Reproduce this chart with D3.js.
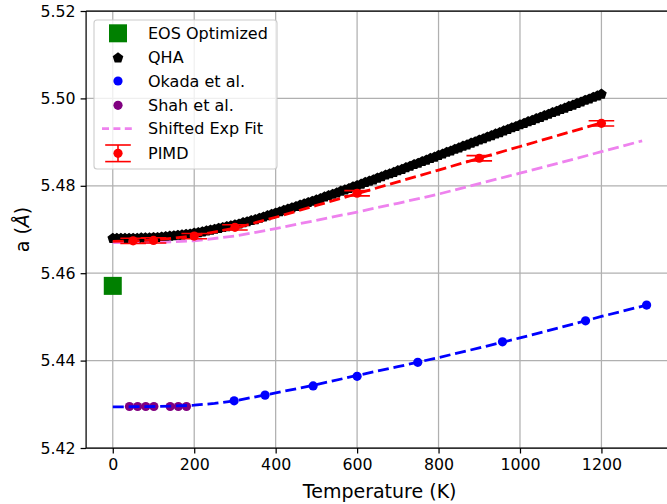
<!DOCTYPE html>
<html>
<head>
<meta charset="utf-8">
<script src="https://cdn.jsdelivr.net/npm/d3@7"></script>
<style>
  html, body { margin: 0; padding: 0; background: #fff; }
  svg { display: block; font-family: "DejaVu Sans", sans-serif; }
</style>
</head>
<body>
<svg id="chart" width="667" height="504"></svg>
<script>
// ---- data ----
const eosTemp = [0];
const eosA = [5.4571];

const qhaTemp = [0,10,20,30,40,50,60,70,80,90,100,110,120,130,140,150,160,170,180,190,
  200,210,220,230,240,250,260,270,280,290,300,310,320,330,340,350,360,370,380,390,
  400,410,420,430,440,450,460,470,480,490,500,510,520,530,540,550,560,570,580,590,
  600,610,620,630,640,650,660,670,680,690,700,710,720,730,740,750,760,770,780,790,
  800,810,820,830,840,850,860,870,880,890,900,910,920,930,940,950,960,970,980,990,
  1000,1010,1020,1030,1040,1050,1060,1070,1080,1090,1100,1110,1120,1130,1140,1150,1160,1170,1180,1190,1200];
const qhaA = [5.4681,5.4681,5.4681,5.4681,5.4681,5.4681,5.4681,5.4682,5.4682,5.4682,
  5.4683,5.4683,5.4684,5.4685,5.4686,5.4687,5.4688,5.4689,5.4690,5.4691,
  5.4693,5.4694,5.4696,5.4698,5.4700,5.4702,5.4704,5.4706,5.4708,5.4710,
  5.4712,5.4714,5.4717,5.4719,5.4722,5.4724,5.4727,5.4730,5.4733,5.4736,
  5.4739,5.4742,5.4745,5.4748,5.4751,5.4754,5.4757,5.4760,5.4763,5.4766,
  5.4769,5.4772,5.4776,5.4779,5.4782,5.4785,5.4789,5.4792,5.4795,5.4799,
  5.4802,5.4805,5.4809,5.4812,5.4815,5.4819,5.4822,5.4826,5.4829,5.4832,
  5.4836,5.4839,5.4843,5.4846,5.4850,5.4853,5.4857,5.4860,5.4864,5.4867,
  5.4871,5.4874,5.4878,5.4881,5.4885,5.4888,5.4892,5.4895,5.4899,5.4902,
  5.4906,5.4909,5.4913,5.4916,5.4920,5.4923,5.4927,5.4930,5.4934,5.4937,
  5.4941,5.4944,5.4948,5.4951,5.4955,5.4958,5.4962,5.4965,5.4969,5.4972,
  5.4976,5.4979,5.4983,5.4986,5.4990,5.4993,5.4997,5.5000,5.5004,5.5007,5.5011];

const okadaTemp = [298, 374, 492, 600, 749, 957, 1161, 1311];
const okadaA = [5.4308, 5.4321, 5.4342, 5.4364, 5.4396, 5.4443, 5.4491, 5.4527];

const shahTemp = [41, 61, 81, 101, 141, 161, 181];
const shahA = [5.4295, 5.4295, 5.4295, 5.4295, 5.4295, 5.4295, 5.4295];

// smooth fit through the Okada data
const okadaFitTemp = [0, 100, 150, 200, 250, 300, 400, 500, 600, 700, 800, 900, 1000, 1100, 1200, 1311];
const okadaFitA = [5.4294, 5.4295, 5.4296, 5.4298, 5.4302, 5.4308, 5.4326, 5.4345, 5.4366, 5.4386,
  5.4407, 5.4429, 5.4452, 5.4476, 5.4501, 5.4527];

// shifted exponential fit
const expFitTemp = [0, 100, 200, 300, 400, 500, 600, 700, 800, 900, 1000, 1100, 1200, 1300];
const expFitA = [5.4670, 5.4670, 5.4674, 5.4685, 5.4702, 5.4721, 5.4740, 5.4760, 5.4781, 5.4805,
  5.4829, 5.4853, 5.4878, 5.4903];

// fit through the PIMD data
const pimdFitTemp = [0, 50, 100, 150, 200, 300, 400, 500, 600, 700, 800, 900, 1000, 1100, 1200];
const pimdFitA = [5.4673, 5.4674, 5.4676, 5.4680, 5.4686, 5.4703, 5.4728, 5.4755, 5.4782, 5.4809,
  5.4836, 5.4863, 5.4890, 5.4917, 5.4944];

const pimdTemp = [50, 100, 200, 300, 600, 900, 1200];
const pimdA = [5.4674, 5.4675, 5.4685, 5.4705, 5.4783, 5.4863, 5.4943];
const pimdErr = [0.0006, 0.0006, 0.0006, 0.0006, 0.0006, 0.0006, 0.0006];

const xTicks = [0, 200, 400, 600, 800, 1000, 1200];
const yTicks = [5.42, 5.44, 5.46, 5.48, 5.50, 5.52];

const legendLabels = ["EOS Optimized", "QHA", "Okada et al.", "Shah et al.", "Shifted Exp Fit", "PIMD"];

// ---- layout ----
const svg = d3.select("#chart");
const W = 667, H = 504;
const plot = { left: 86.1, right: 673.3, top: 11, bottom: 448 };

const x = d3.scaleLinear().domain([-65.5, 1376.5]).range([plot.left, plot.right]);
const y = d3.scaleLinear().domain([5.42, 5.52]).range([plot.bottom, plot.top]);

const GRID = "#b0b0b0";
const tickFont = 15.8;

svg.append("defs").append("clipPath").attr("id", "plotclip")
  .append("rect").attr("x", plot.left).attr("y", plot.top)
  .attr("width", plot.right - plot.left).attr("height", plot.bottom - plot.top);

// grid
const grid = svg.append("g");
grid.selectAll("line.gx").data(xTicks).join("line")
  .attr("x1", d => x(d)).attr("x2", d => x(d))
  .attr("y1", plot.top).attr("y2", plot.bottom)
  .attr("stroke", GRID).attr("stroke-width", 1.25);
grid.selectAll("line.gy").data(yTicks).join("line")
  .attr("x1", plot.left).attr("x2", plot.right)
  .attr("y1", d => y(d)).attr("y2", d => y(d))
  .attr("stroke", GRID).attr("stroke-width", 1.25);

const layer = svg.append("g").attr("clip-path", "url(#plotclip)");

// EOS optimized square
layer.selectAll("rect.eos").data(eosTemp).join("rect")
  .attr("x", (d, i) => x(d) - 9).attr("y", (d, i) => y(eosA[i]) - 9)
  .attr("width", 18).attr("height", 18).attr("fill", "#008000");

// pentagon marker
function pentagon(r) {
  const pts = d3.range(5).map(k => {
    const a = -Math.PI / 2 + k * 2 * Math.PI / 5;
    return [r * Math.cos(a), r * Math.sin(a)];
  });
  return "M" + pts.map(p => p.join(",")).join("L") + "Z";
}
const pent = pentagon(5.6);

layer.selectAll("path.qha").data(qhaTemp).join("path")
  .attr("d", pent)
  .attr("transform", (d, i) => `translate(${x(d)},${y(qhaA[i]) + 0.6})`)
  .attr("fill", "#000");

// Okada points
layer.selectAll("circle.okada").data(okadaTemp).join("circle")
  .attr("cx", d => x(d)).attr("cy", (d, i) => y(okadaA[i]))
  .attr("r", 4.6).attr("fill", "#0000ff");

// Shah points
layer.selectAll("circle.shah").data(shahTemp).join("circle")
  .attr("cx", d => x(d)).attr("cy", (d, i) => y(shahA[i]))
  .attr("r", 4.6).attr("fill", "#800080");

const line = d3.line().x(d => x(d[0])).y(d => y(d[1]));
const dash = "11,4.8";

function dashed(temps, vals, color) {
  layer.append("path")
    .attr("d", line(temps.map((t, i) => [t, vals[i]])))
    .attr("fill", "none").attr("stroke", color)
    .attr("stroke-width", 2.8).attr("stroke-dasharray", dash);
}
dashed(okadaFitTemp, okadaFitA, "#0000ff");
dashed(expFitTemp, expFitA, "#ee82ee");
dashed(pimdFitTemp, pimdFitA, "#ff0000");

// PIMD with error bars
const pimd = layer.selectAll("g.pimd").data(pimdTemp).join("g")
  .attr("transform", (d, i) => `translate(${x(d)},0)`);
pimd.append("line")
  .attr("x1", 0).attr("x2", 0)
  .attr("y1", (d, i) => y(pimdA[i] - pimdErr[i]))
  .attr("y2", (d, i) => y(pimdA[i] + pimdErr[i]))
  .attr("stroke", "#ff0000").attr("stroke-width", 1.6);
[-1, 1].forEach(s => {
  pimd.append("line")
    .attr("x1", -12.8).attr("x2", 12.8)
    .attr("y1", (d, i) => y(pimdA[i] + s * pimdErr[i]))
    .attr("y2", (d, i) => y(pimdA[i] + s * pimdErr[i]))
    .attr("stroke", "#ff0000").attr("stroke-width", 1.6);
});
pimd.append("circle")
  .attr("cx", 0).attr("cy", (d, i) => y(pimdA[i]))
  .attr("r", 4.6).attr("fill", "#ff0000");

// axes
const xAxis = svg.append("g").attr("transform", `translate(0,${plot.bottom})`)
  .call(d3.axisBottom(x).tickValues(xTicks).tickFormat(d3.format("d")).tickSize(5.5).tickPadding(5));
const yAxis = svg.append("g").attr("transform", `translate(${plot.left},0)`)
  .call(d3.axisLeft(y).tickValues(yTicks).tickFormat(d3.format(".2f")).tickSize(5.5).tickPadding(5));
[xAxis, yAxis].forEach(g => {
  g.select(".domain").remove();
  g.selectAll(".tick line").attr("stroke", "#000").attr("stroke-width", 1.25);
  g.selectAll(".tick text").attr("font-size", tickFont)
    .attr("font-family", "DejaVu Sans, sans-serif").attr("fill", "#000");
});

// spines
svg.append("line").attr("x1", plot.left).attr("x2", plot.left)
  .attr("y1", plot.top).attr("y2", plot.bottom).attr("stroke", "#000").attr("stroke-width", 1.25);
svg.append("line").attr("x1", plot.left).attr("x2", plot.right)
  .attr("y1", plot.bottom).attr("y2", plot.bottom).attr("stroke", "#000").attr("stroke-width", 1.25);
svg.append("line").attr("x1", plot.left).attr("x2", plot.right)
  .attr("y1", plot.top).attr("y2", plot.top).attr("stroke", "#000").attr("stroke-width", 1.25);
svg.append("line").attr("x1", plot.right).attr("x2", plot.right)
  .attr("y1", plot.top).attr("y2", plot.bottom).attr("stroke", "#000").attr("stroke-width", 1.25);

// axis labels
svg.append("text")
  .attr("x", (plot.left + plot.right) / 2).attr("y", 498)
  .attr("text-anchor", "middle").attr("font-size", 19).attr("fill", "#000")
  .text("Temperature (K)");

const yl = svg.append("text")
  .attr("transform", `translate(29,${(plot.top + plot.bottom) / 2}) rotate(-90)`)
  .attr("text-anchor", "middle").attr("font-size", 19).attr("fill", "#000");
yl.append("tspan").text("a (");
yl.append("tspan").attr("font-style", "italic").text("Å");
yl.append("tspan").text(")");

// legend
const lg = svg.append("g");
lg.append("rect")
  .attr("x", 94).attr("y", 20).attr("width", 183).attr("height", 149)
  .attr("rx", 3).attr("ry", 3)
  .attr("fill", "#fff").attr("fill-opacity", 0.8)
  .attr("stroke", "#cccccc").attr("stroke-width", 1.1);

const rowY = [33.3, 57.3, 81, 105.3, 128.7, 153.3];
const hx = 118;
lg.append("rect").attr("x", hx - 9).attr("y", rowY[0] - 9).attr("width", 18).attr("height", 18).attr("fill", "#008000");
lg.append("path").attr("d", pent).attr("transform", `translate(${hx},${rowY[1] + 0.6})`).attr("fill", "#000");
lg.append("circle").attr("cx", hx).attr("cy", rowY[2]).attr("r", 4.6).attr("fill", "#0000ff");
lg.append("circle").attr("cx", hx).attr("cy", rowY[3]).attr("r", 4.6).attr("fill", "#800080");
lg.append("line").attr("x1", hx - 16).attr("x2", hx + 16).attr("y1", rowY[4]).attr("y2", rowY[4])
  .attr("stroke", "#ee82ee").attr("stroke-width", 2.8).attr("stroke-dasharray", "7,4.4");
lg.append("line").attr("x1", hx).attr("x2", hx).attr("y1", rowY[5] - 8.3).attr("y2", rowY[5] + 8.3)
  .attr("stroke", "#ff0000").attr("stroke-width", 1.6);
[-8.3, 8.3].forEach(o => lg.append("line").attr("x1", hx - 12.8).attr("x2", hx + 12.8)
  .attr("y1", rowY[5] + o).attr("y2", rowY[5] + o).attr("stroke", "#ff0000").attr("stroke-width", 1.6));
lg.append("circle").attr("cx", hx).attr("cy", rowY[5]).attr("r", 4.6).attr("fill", "#ff0000");

lg.selectAll("text.lab").data(legendLabels).join("text")
  .attr("x", 148).attr("y", (d, i) => rowY[i] + 5.6)
  .attr("font-size", 16).attr("fill", "#000")
  .text(d => d);
</script>
</body>
</html>
